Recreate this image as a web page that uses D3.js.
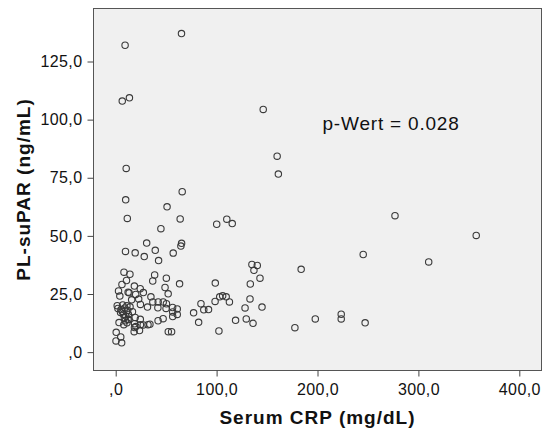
<!DOCTYPE html>
<html>
<head>
<meta charset="utf-8">
<script src="https://cdn.jsdelivr.net/npm/d3@7"></script>
<style>
  body { margin: 0; background: #fff; }
  text { font-family: Arial, "Liberation Sans", sans-serif; }
</style>
</head>
<body>
<div id="plot"></div>
<script>
// values
const crp = [
  65.2, 9.3, 13.6, 6.5, 146.2, 160, 161.2, 10.4, 9.9, 11.5,
  65.9, 50.9, 63.9, 44.8, 100.1, 110.1, 115.5, 276.8, 357.3, 245.3,
  310.2, 183.8, 65.3, 64.6, 30.7, 39.2, 9.7, 19.3, 57, 28.3,
  42.5, 135, 140.3, 137, 143, 133.4, 98.7, 63.3, 8.2, 14.1,
  38.6, 36.7, 50.2, 10.7, 6.2, 48.9, 18.5, 24.3, 52, 27.4,
  2.8, 12.3, 13.3, 4.1, 19.8, 34.9, 22.8, 15.8, 24.5, 36.8,
  42.1, 47.1, 50.3, 31.5, 41.8, 49.9, 56.4, 61, 56.5, 61,
  56.5, 1.5, 2.2, 5.3, 11.1, 11.8, 4.8, 7.6, 16.6, 8.6,
  12.6, 12.2, 19.3, 24.4, 3.3, 8, 11.2, 18.7, 24.5, 32,
  42, 47, 18.6, 18.3, 23.6, 52.1, 55.4, 0.5, 5, 0.3,
  5.9, 77.2, 82.2, 84.5, 87.3, 92, 98.5, 103.1, 106, 109.5,
  112.7, 102.3, 118.8, 128.2, 133.1, 129.4, 136.1, 145, 177.6, 197.8,
  223.5, 223.5, 247.2, 6.5, 9, 10, 13, 9.5, 14.2, 7,
  20, 27.3, 33.9
];
const supar = [
  137, 132, 109.4, 108, 104.4, 84.3, 76.6, 79, 65.5, 57.5,
  69, 62.5, 57.3, 53.1, 55, 57.2, 55.3, 58.7, 50.2, 42,
  38.8, 35.6, 46.8, 45.6, 46.9, 43.8, 43.3, 42.7, 42.6, 41.1,
  39.4, 37.7, 37.3, 35.2, 31.8, 29.3, 29.7, 29.4, 34.4, 33.5,
  33.2, 30.6, 31.8, 30.8, 29.1, 27.8, 28.4, 27.3, 25.1, 25.6,
  26.3, 25.8, 25.5, 24.1, 24.8, 23.8, 22.8, 22.5, 20.5, 21.6,
  21.6, 21.6, 20.8, 19.4, 19.1, 18.8, 19.2, 18.6, 17.3, 16.2,
  15.3, 20, 18.8, 18.3, 20, 17.9, 17.1, 16.3, 17.4, 14.8,
  16.2, 14.1, 14.9, 14.1, 12.7, 11.8, 12.6, 12.2, 11.8, 11.8,
  13.5, 14.4, 10.6, 8.8, 9.3, 8.8, 8.8, 8.5, 6.5, 4.8,
  4, 16.9, 12.8, 20.8, 18.2, 18.3, 21.8, 23.8, 24.2, 23.8,
  21.6, 9.1, 13.7, 19, 22.9, 14.3, 12.4, 19.4, 10.5, 14.3,
  16.3, 14.3, 12.6, 17.5, 19, 15.5, 14, 13.5, 19.5, 20.3,
  11, 11.7, 12
];
const xTicks = [0, 100, 200, 300, 400];
const yTicks = [0, 25, 50, 75, 100, 125];
const xTitle = "Serum CRP (mg/dL)";
const yTitle = "PL-suPAR (ng/mL)";
const note = "p-Wert = 0.028";

const width = 545, height = 432;
const margin = {top: 8.5, right: 3.5, bottom: 61.5, left: 93.5};

const svg = d3.select("#plot").append("svg")
    .attr("width", width)
    .attr("height", height);

const x = d3.scaleLinear()
    .domain([-22, 422])
    .range([margin.left, width - margin.right]);

const y = d3.scaleLinear()
    .domain([-7.9, 147.8])
    .range([height - margin.bottom, margin.top]);

// German number style, SPSS drops the leading zero
const de = d3.formatLocale({decimal: ",", thousands: ".", grouping: [3], currency: ["", "€"]});
const fmt = v => v === 0 ? ",0" : de.format(".1f")(v);

// plot area
svg.append("rect")
    .attr("x", margin.left)
    .attr("y", margin.top)
    .attr("width", width - margin.left - margin.right)
    .attr("height", height - margin.top - margin.bottom)
    .attr("fill", "#f0f0f0")
    .attr("stroke", "#555")
    .attr("stroke-width", 1);

const xAxis = svg.append("g")
    .attr("transform", `translate(0,${height - margin.bottom})`)
    .call(d3.axisBottom(x).tickValues(xTicks).tickFormat(fmt)
        .tickSize(6).tickSizeOuter(0).tickPadding(7));

const yAxis = svg.append("g")
    .attr("transform", `translate(${margin.left},0)`)
    .call(d3.axisLeft(y).tickValues(yTicks).tickFormat(fmt)
        .tickSize(6).tickSizeOuter(0).tickPadding(5));

[xAxis, yAxis].forEach(g => {
    g.select(".domain").remove();
    g.selectAll(".tick line").attr("stroke", "#444");
    g.selectAll(".tick text")
        .attr("fill", "#111")
        .style("font-family", "Arial, 'Liberation Sans', sans-serif")
        .style("font-size", "16px")
        .style("letter-spacing", "0.4px");
});

// points
svg.append("g")
    .selectAll("circle")
    .data(crp.map((c, i) => [c, supar[i]]))
    .enter().append("circle")
    .attr("cx", d => x(d[0]))
    .attr("cy", d => y(d[1]))
    .attr("r", 3.2)
    .attr("fill", "none")
    .attr("stroke", "#3a3a3a")
    .attr("stroke-width", 1.1);

// axis titles
svg.append("text")
    .attr("x", (margin.left + width - margin.right) / 2)
    .attr("y", 424)
    .attr("text-anchor", "middle")
    .style("font-size", "19px")
    .style("font-weight", "bold")
    .style("letter-spacing", "1px")
    .attr("fill", "#111")
    .text(xTitle);

svg.append("text")
    .attr("transform", `translate(29.5,${(margin.top + height - margin.bottom) / 2}) rotate(-90)`)
    .attr("text-anchor", "middle")
    .style("font-size", "19px")
    .style("font-weight", "bold")
    .style("letter-spacing", "1px")
    .attr("fill", "#111")
    .text(yTitle);

// annotation
svg.append("text")
    .attr("x", 322.5)
    .attr("y", 130)
    .style("font-size", "19px")
    .style("letter-spacing", "0.8px")
    .attr("fill", "#111")
    .text(note);
</script>
</body>
</html>
